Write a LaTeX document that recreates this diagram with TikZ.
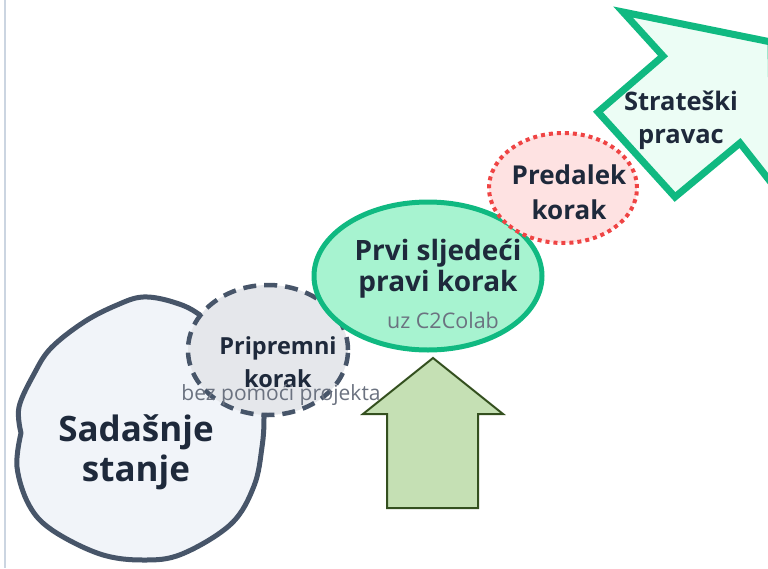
\documentclass[tikz,border=0pt]{standalone}
\usepackage{fontspec}
\setmainfont{Open Sans}
\usetikzlibrary{shapes.geometric}
\definecolor{slate}{HTML}{475569}
\definecolor{blobfill}{HTML}{F1F4F9}
\definecolor{prepfill}{HTML}{E5E7EB}
\definecolor{mint}{HTML}{A7F3D0}
\definecolor{emer}{HTML}{10B981}
\definecolor{rosefill}{HTML}{FEE2E2}
\definecolor{redline}{HTML}{EF4444}
\definecolor{palemint}{HTML}{ECFDF5}
\definecolor{olivefill}{HTML}{C5E0B4}
\definecolor{olivedark}{HTML}{34501F}
\definecolor{txt}{HTML}{1E293B}
\definecolor{subtxt}{HTML}{6B7280}
\definecolor{edgeline}{HTML}{CBD5E1}
\tikzset{
  label/.style={text=txt, align=center, inner sep=0pt},
  sublabel/.style={text=subtxt, inner sep=0pt},
  bubble/.style={ellipse, inner sep=0pt},
}
\begin{document}
\begin{tikzpicture}[x=1pt,y=-1pt]
\useasboundingbox (0,0) rectangle (768,568);
\clip (0,0) rectangle (768,568);
% left border line
\draw[edgeline, line width=2pt] (5,0) -- (5,568);
% current state blob
\draw[slate, fill=blobfill, line width=5pt, line join=round]
  plot[smooth, tension=0.6] coordinates {(21,433) (19,407) (34,374) (51,348) (84,322) (117,305) (143,297) (173,302) (200,315) (240,350) (262,390) (264,418) (262,447) (254,486) (231,524) (182,554) (143,560) (100,554) (52,530) (29,505) (17,467) (21,433)} -- cycle;
% preparatory step
\node[bubble, draw=slate, fill=prepfill, line width=4.5pt, dash pattern=on 13pt off 8pt,
  minimum width=160pt, minimum height=130pt] (prep) at (268,350) {};
% first real step
\node[bubble, draw=emer, fill=mint, line width=5pt,
  minimum width=228pt, minimum height=148pt] (first) at (428,276) {};
% strategic direction arrow
\draw[emer, fill=palemint, line width=7pt, line join=miter]
  (623,12) -- (771,42) -- (773,185) -- (740,143) -- (675,197) -- (598,112) -- (663,56) -- cycle;
% too far step
\node[bubble, draw=redline, fill=rosefill, line width=4pt, dash pattern=on 4pt off 4pt,
  minimum width=148pt, minimum height=110pt] (far) at (563,188) {};
% support arrow
\draw[olivedark, fill=olivefill, line width=2pt, line join=miter]
  (433,358) -- (503,414) -- (478,414) -- (478,508) -- (387,508) -- (387,414) -- (363,414) -- cycle;
% labels
\node[label, font=\fontsize{35}{40}\selectfont\bfseries] (tcur) at (136,452) {Sadašnje\\stanje};
\node[label, font=\fontsize{23.5}{33}\selectfont\bfseries] (tprep) at (278,362) {Pripremni\\korak};
\node[sublabel, font=\fontsize{21}{24}\selectfont] (tprepsub) at (281,395) {bez pomoći projekta};
\node[label, font=\fontsize{28}{31}\selectfont\bfseries] (tfirst) at (438,269) {Prvi sljedeći\\pravi korak};
\node[sublabel, font=\fontsize{21.5}{24}\selectfont] (tfirstsub) at (443,320) {uz C2Colab};
\node[label, font=\fontsize{26}{35}\selectfont\bfseries] (tfar) at (569,192) {Predalek\\korak};
\node[label, font=\fontsize{25.5}{33}\selectfont\bfseries] (tstrat) at (681,120) {Strateški\\pravac};
\end{tikzpicture}
\end{document}
